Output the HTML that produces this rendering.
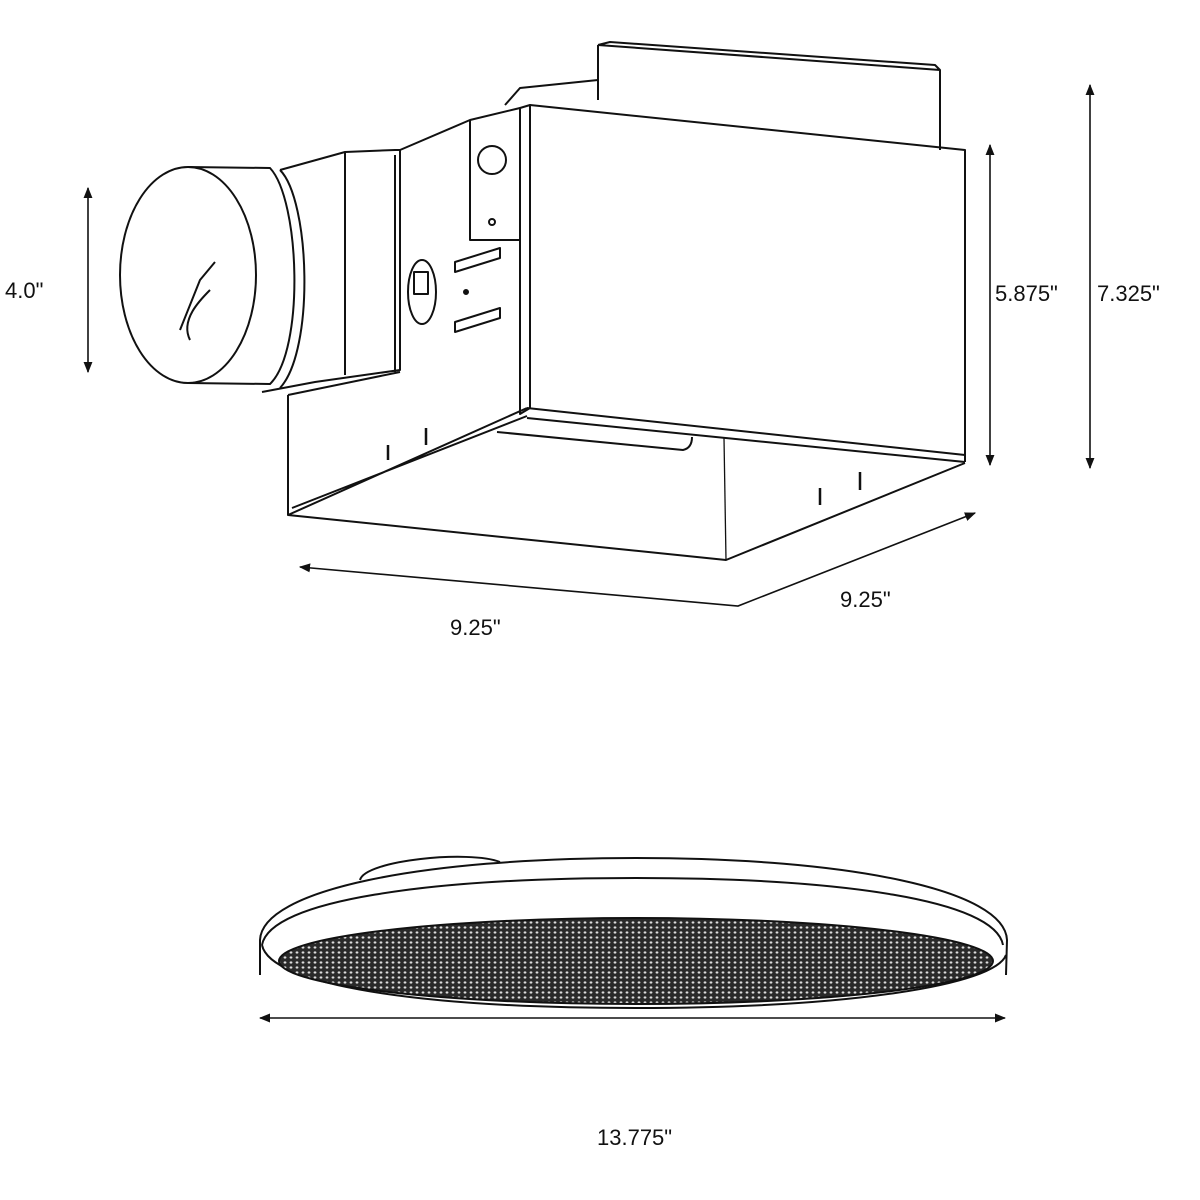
<!DOCTYPE html>
<html><head><meta charset="utf-8"><style>
html,body{margin:0;padding:0;background:#fff;}
svg{display:block;}
text{font-family:"Liberation Sans",sans-serif;font-size:22px;fill:#111;}
</style></head><body>
<svg width="1200" height="1200" viewBox="0 0 1200 1200" xmlns="http://www.w3.org/2000/svg">
<defs>
<marker id="a" viewBox="0 0 10 10" refX="9" refY="5" markerWidth="7" markerHeight="7" orient="auto-start-reverse"><path d="M0,1 L10,5 L0,9 z" fill="#111"/></marker>
<pattern id="mesh" width="6" height="5" patternUnits="userSpaceOnUse">
<rect width="6" height="5" fill="#2a2a2a"/><ellipse cx="3" cy="2.5" rx="1.4" ry="1.1" fill="#ddd"/>
</pattern>
</defs>
<g fill="none" stroke="#111" stroke-width="2" stroke-linejoin="round">
<!-- back top box -->
<path d="M598,45 L598,100 M598,45 L940,70 L940,150 M598,45 L610,42 L935,65 L940,70"/>
<path d="M505,105 L520,88 L598,80"/>
<!-- front face -->
<path d="M530,105 L965,150 L965,462 M530,105 L530,408"/>
<path d="M520,108 L530,105 L530,408 L520,414 Z"/>
<!-- left face upper -->
<path d="M400,150 L470,120 L520,108"/>
<path d="M470,120 L470,240 L520,240"/>
<circle cx="492" cy="160" r="14"/>
<circle cx="492" cy="222" r="3"/>
<path d="M455,262 L500,248 L500,258 L455,272 Z M455,322 L500,308 L500,318 L455,332 Z"/>
<ellipse cx="422" cy="292" rx="14" ry="32"/>
<rect x="414" y="272" width="14" height="22"/>
<circle cx="466" cy="292" r="2" fill="#111"/>
<!-- lower box -->
<path d="M288,395 L288,515 L726,560 L965,463"/>
<path d="M288,515 L527,408 M292,508 L527,416"/>
<path d="M527,408 L965,455 M527,418 L965,462"/>
<path d="M497,432 L683,450 Q692,448 692,437"/>
<path d="M724,438 L726,560" stroke-width="1.3"/>
<path d="M288,395 L400,372"/>
<path d="M388,445 L388,460 M426,428 L426,445 M820,488 L820,505 M860,472 L860,490" stroke-width="2.5"/>
<!-- duct housing -->
<path d="M280,170 L345,152 L395,150 L400,150 L400,370 L315,382 L262,392"/>
<path d="M345,152 L345,375 M395,155 L395,372"/>
<path d="M280,170 C310,200 315,350 280,388"/>
<ellipse cx="188" cy="275" rx="68" ry="108"/>
<path d="M188,167 L270,168 C300,200 305,350 270,384 L188,383"/>
<path d="M180,330 L200,280 L215,262 M190,340 C180,320 200,300 210,290"/>
</g>
<g stroke="#111" stroke-width="1.6" fill="none">
<line x1="88" y1="372" x2="88" y2="188" marker-end="url(#a)" marker-start="url(#a)"/>
<line x1="990" y1="465" x2="990" y2="145" marker-end="url(#a)" marker-start="url(#a)"/>
<line x1="1090" y1="468" x2="1090" y2="85" marker-end="url(#a)" marker-start="url(#a)"/>
<polyline points="300,567 738,606 975,513" marker-end="url(#a)" marker-start="url(#a)"/>
<line x1="260" y1="1018" x2="1005" y2="1018" marker-end="url(#a)" marker-start="url(#a)"/>
</g>
<text x="5" y="298">4.0"</text>
<text x="995" y="301">5.875"</text>
<text x="1097" y="301">7.325"</text>
<text x="450" y="635">9.25"</text>
<text x="840" y="607">9.25"</text>
<text x="597" y="1145">13.775"</text>
<!-- grille -->
<g fill="none" stroke="#111" stroke-width="2">
<path d="M360,880 C365,860 470,850 500,862"/>
<path d="M260,975 L260,940 C262,890 420,858 636,858 C850,858 1005,890 1007,940 L1006,975"/>
<path d="M262,945 C270,900 430,878 636,878 C840,878 995,900 1003,945"/>
<path d="M262,945 C270,985 420,1008 636,1008 C850,1008 995,985 1006,955"/>
</g>
<ellipse cx="636" cy="961" rx="357" ry="43" fill="url(#mesh)" stroke="#111" stroke-width="2"/>
</svg>
</body></html>
